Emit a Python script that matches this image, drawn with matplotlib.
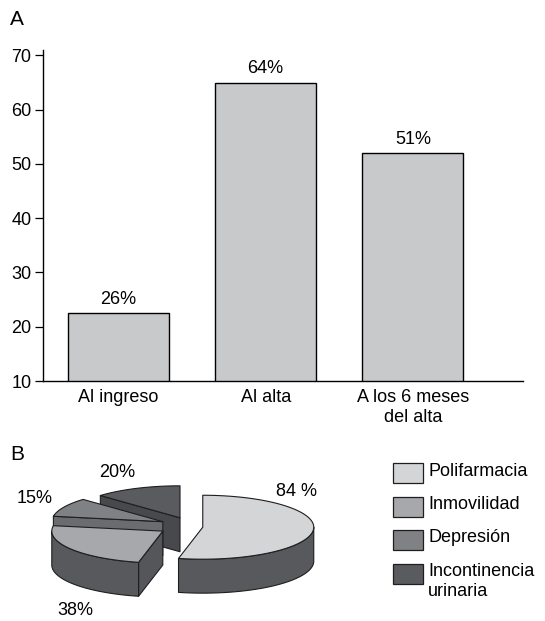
"""Two-panel figure: bar chart (A) and exploded 3D pie (B)."""

import matplotlib.pyplot as plt
import numpy as np
from matplotlib.patches import Polygon, Rectangle

plt.rcParams["font.family"] = ["Liberation Sans", "DejaVu Sans"]
plt.rcParams["font.size"] = 13

# Panel A data
categories = ["Al ingreso", "Al alta", "A los 6 meses\ndel alta"]
bar_heights = [22.5, 65, 52]
bar_texts = ["26%", "64%", "51%"]
y_ticks = [10, 20, 30, 40, 50, 60, 70]

# Panel B data
pie_names = ["Polifarmacia", "Inmovilidad", "Depresión", "Incontinencia\nurinaria"]
pie_values = [84, 38, 15, 20]
pie_texts = ["84 %", "38%", "15%", "20%"]

# Styles / layout
W, H = 545, 621
bar_color = "#c8c9cb"
top_colors = ["#d4d5d7", "#a7a8ab", "#808185", "#5a5b5e"]
radial_colors = ["#58595c", "#55565a", "#6b6c70", "#48494c"]
wall_color = "#58595c"
edge = "#1e1e1e"
RY, DEPTH = 0.288, 0.306  # ellipse squash and wall height, in units of rx
explode = [(0.16, -0.02), (-0.2, -0.055), (-0.2, 0.03), (-0.045, 0.065)]
text_pos = [(1.0, 0.306), (-0.991, -0.766), (-1.351, 0.243), (-0.613, 0.477)]

fig = plt.figure(figsize=(W / 100, H / 100), dpi=100)

# ---- A: bar chart
ax = fig.add_axes([43 / W, 240 / H, 480 / W, 331 / H])
x = np.arange(len(categories))
bars = ax.bar(x, bar_heights, width=0.686, color=bar_color,
              edgecolor="black", linewidth=1.0)
ax.bar_label(bars, labels=bar_texts, padding=4, fontsize=13)
ax.set_ylim(10, 71)
ax.set_xlim(-0.512, 2.748)
ax.set_yticks(y_ticks)
ax.set_xticks(x, categories)
for s in ["top", "right"]:
    ax.spines[s].set_visible(False)
for s in ["left", "bottom"]:
    ax.spines[s].set_linewidth(1.0)
ax.tick_params(axis="y", length=5.8, width=0.9, direction="out", pad=2.5,
               labelsize=13)
ax.tick_params(axis="x", length=0, pad=6, labelsize=13)
fig.text(10 / W, 1 - 19.5 / H, "A", fontsize=15, va="center")

# ---- B: 3D pie
pax = fig.add_axes([0, 0, 345 / W, 181 / H])
pax.set_xlim(-185 / 111, 160 / 111)
pax.set_ylim(-96 / 111, 85 / 111)
pax.axis("off")


def arc(cx, cy, t1, t2, n=90):
    t = np.radians(np.linspace(t1, t2, n))
    return np.column_stack([cx + np.cos(t), cy + RY * np.sin(t)])


spans = 360 * np.array(pie_values) / sum(pie_values)
ends = 90 - np.concatenate([[0], np.cumsum(spans)[:-1]])
starts = ends - spans
down = np.array([0, DEPTH])

order = sorted(range(len(pie_values)), key=lambda i: -explode[i][1])
for i in order:
    cx, cy = explode[i]
    a1, a2 = starts[i], ends[i]
    apex = np.array([cx, cy])
    # radial side faces
    for a, vis in [(a1, np.cos(np.radians(a1)) > 1e-6),
                   (a2, np.cos(np.radians(a2)) < -1e-6)]:
        if vis:
            e = apex + [np.cos(np.radians(a)), RY * np.sin(np.radians(a))]
            pax.add_patch(Polygon([apex, e, e - down, apex - down],
                                  facecolor=radial_colors[i], edgecolor=edge,
                                  linewidth=0.8, joinstyle="round"))
    # outer wall (front half only)
    for k in range(-2, 2):
        lo, hi = max(a1, 180 + 360 * k), min(a2, 360 + 360 * k)
        if hi > lo:
            pts = arc(cx, cy, lo, hi)
            pax.add_patch(Polygon(np.vstack([pts, pts[::-1] - down]),
                                  facecolor=wall_color, edgecolor=edge,
                                  linewidth=0.8, joinstyle="round"))
    # top face
    pax.add_patch(Polygon(np.vstack([apex, arc(cx, cy, a1, a2)]),
                          facecolor=top_colors[i], edgecolor=edge,
                          linewidth=0.8, joinstyle="round"))

for (tx, ty), t in zip(text_pos, pie_texts):
    pax.text(tx, ty, t, ha="center", va="center", fontsize=13)

fig.text(10 / W, 1 - 455 / H, "B", fontsize=15, va="center")

# legend
for k, (name, col) in enumerate(zip(pie_names, top_colors)):
    top = 463 + 33.5 * k
    fig.add_artist(Rectangle((393 / W, 1 - (top + 20) / H), 30 / W, 20 / H,
                             transform=fig.transFigure, facecolor=col,
                             edgecolor=edge, linewidth=0.9))
    fig.text(428 / W, 1 - (top - 0.5) / H, name, ha="left", va="top",
             fontsize=13, linespacing=1.25)

fig.savefig("out.png", dpi=100)
